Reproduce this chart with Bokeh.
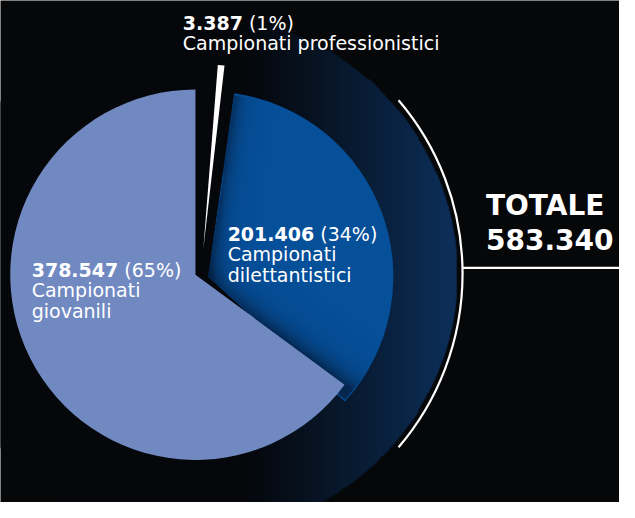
import numpy as np
from bokeh.plotting import figure
from bokeh.models import Range1d
from bokeh.core.properties import value
from bokeh.embed import file_html
from bokeh.resources import INLINE

# ---------------- data ----------------
categories = ["Campionati professionistici", "Campionati dilettantistici", "Campionati giovanili"]
label_lines = [["Campionati professionistici"], ["Campionati", "dilettantistici"], ["Campionati", "giovanili"]]
values = [3387, 201406, 378547]
value_labels = ["3.387", "201.406", "378.547"]
pct_labels = ["(1%)", "(34%)", "(65%)"]
slice_colors = ["#ffffff", "#064f99", "#7189c1"]
total_title = "TOTALE"
total_label = "583.340"

# ---------------- layout (reference pixel space, y downward) ----------------
W, H = 635, 518
BG = "#060709"
CX, CY, R = 200, 283, 190          # pie centre / radius
explode = [(8, -26, -4.5), (13, 2, -6.0), (0, 0, 0.0)]   # dx, dy, rotation (deg)
draw_order = [1, 2, 0]
label_pos = [(187, 30), (233, 248), (32, 285)]
LINE_H = 21
FS = 19
RING_R = 268
ARC_R, ARC_CY, ARC_SPAN = 274, 282, 40.5
TOT_X, TOT_Y1, TOT_Y2, LINE_Y = 498, 222, 257, 276
SY = 502 / 518


def Y(y):
    return H - y


def base_adj(fs):
    return 0.36 * fs / SY


def rgba_image(n_x, n_y):
    img = np.zeros((n_y, n_x), dtype=np.uint32)
    return img, img.view(dtype=np.uint8).reshape((n_y, n_x, 4))


p = figure(width=619, height=502, x_range=Range1d(0, W), y_range=Range1d(0, H),
           output_backend="svg", toolbar_location=None, min_border=0,
           x_axis_location=None, y_axis_location=None,
           background_fill_color=BG, border_fill_color=BG, outline_line_color=None)
p.grid.visible = False

# ---------------- gradient ring behind the pie (decoration) ----------------
N = 2 * RING_R
gx = np.arange(N) + 0.5 + (CX - RING_R)
gy = np.arange(N) + 0.5 - RING_R
XX, YY = np.meshgrid(gx, gy)
rr = np.hypot(XX - CX, YY)
t = np.clip((XX - 245) / (455 - 245), 0, 1) ** 1.15
c0 = np.array([5, 7, 11], dtype=float)
c1 = np.array([12, 45, 86], dtype=float)
img, view = rgba_image(N, N)
for ch in range(3):
    view[:, :, ch] = (c0[ch] + (c1[ch] - c0[ch]) * t).astype(np.uint8)
view[:, :, 3] = (np.clip(RING_R - rr + 0.5, 0, 1) * 255).astype(np.uint8)
p.image_rgba(image=[img], x=CX - RING_R, y=Y(CY) - RING_R, dw=N, dh=N)

# ---------------- pie slices ----------------
total = sum(values)
angle = 90.0
bounds = []
for v in values:
    span = v / total * 360.0
    bounds.append((angle - span, angle))   # clockwise from 12 o'clock
    angle -= span


def shadow_for_blue():
    lo, hi = bounds[1]
    dx, dy, rot = explode[1]
    a1, a2 = np.deg2rad(lo + rot), np.deg2rad(hi + rot)
    sx0, sy0 = CX + dx, Y(CY + dy)
    bx0, by0, bw, bh = sx0 - 4, sy0 - R - 2, R + 8, 2 * R + 4
    hx = np.arange(bw) + 0.5 + bx0 - sx0
    hy = np.arange(bh) + 0.5 + by0 - sy0
    PX, PY = np.meshgrid(hx, hy)
    ang = np.arctan2(PY, PX)
    inside = (np.hypot(PX, PY) < R - 0.5) & (ang > a1 + 0.004) & (ang < a2 - 0.004)
    d_left = np.abs(np.cos(a2) * PY - np.sin(a2) * PX)
    # distance from the straight edge of the light slice (cast shadow)
    la = np.deg2rad(bounds[2][1])
    LX, LY = PX + (sx0 - CX), PY + (sy0 - Y(CY))
    s = np.cos(la) * LY - np.sin(la) * LX
    d_light = np.clip(s, 0, None)
    alpha = 0.55 * np.exp(-d_left / 9.0) + 0.6 * np.exp(-d_light / 12.0)
    alpha = np.where(inside, np.clip(alpha, 0, 0.75), 0)
    simg, sview = rgba_image(bw, bh)
    sview[:, :, 0], sview[:, :, 1], sview[:, :, 2] = 3, 14, 32
    sview[:, :, 3] = (alpha * 255).astype(np.uint8)
    p.image_rgba(image=[simg], x=bx0, y=by0, dw=bw, dh=bh)


for k in draw_order:
    lo, hi = bounds[k]
    dx, dy, rot = explode[k]
    p.wedge(x=[CX + dx], y=[Y(CY + dy)], radius=R,
            start_angle=np.deg2rad(lo + rot), end_angle=np.deg2rad(hi + rot),
            fill_color=slice_colors[k], line_color=None)
    if k == 1:
        shadow_for_blue()

# ---------------- white arc + line ----------------
p.arc(x=[CX], y=[Y(ARC_CY)], radius=ARC_R, start_angle=np.deg2rad(-ARC_SPAN),
      end_angle=np.deg2rad(ARC_SPAN), line_color="white", line_width=2.2)
p.segment(x0=[CX + ARC_R], y0=[Y(LINE_Y)], x1=[W], y1=[Y(LINE_Y)],
          line_color="white", line_width=2.2)

# ---------------- labels ----------------
BOLD_W = {"0": .696, "1": .696, "2": .696, "3": .696, "4": .696, "5": .696,
          "6": .696, "7": .696, "8": .696, "9": .696, ".": .380}
for k in range(len(values)):
    lx, ly = label_pos[k]
    ly = ly - base_adj(FS)
    p.text(x=[lx], y=[Y(ly)], text=[value_labels[k]], text_font=value("DejaVu Sans"),
           text_font_size=f"{FS}px", text_font_style="bold", text_color="white",
           text_baseline="alphabetic", text_align="left")
    off = sum(BOLD_W.get(ch, .7) for ch in value_labels[k]) * FS + 0.318 * FS
    p.text(x=[lx], y=[Y(ly)], x_offset=off, text=[pct_labels[k]], text_font=value("DejaVu Sans"),
           text_font_size=f"{FS}px", text_color="white",
           text_baseline="alphabetic", text_align="left")
    for i, line in enumerate(label_lines[k]):
        p.text(x=[lx], y=[Y(ly + LINE_H * (i + 1))], text=[line], text_font=value("DejaVu Sans"),
               text_font_size=f"{FS}px", text_color="white",
               text_baseline="alphabetic", text_align="left")

TFS = 28
p.text(x=[TOT_X, TOT_X], y=[Y(TOT_Y1 - base_adj(TFS)), Y(TOT_Y2 - base_adj(TFS))],
       text=[total_title, total_label],
       text_font=value("DejaVu Sans"), text_font_size=f"{TFS}px", text_font_style="bold",
       text_color="white", text_baseline="alphabetic", text_align="left")

open("out.html", "w").write(file_html(p, INLINE))
